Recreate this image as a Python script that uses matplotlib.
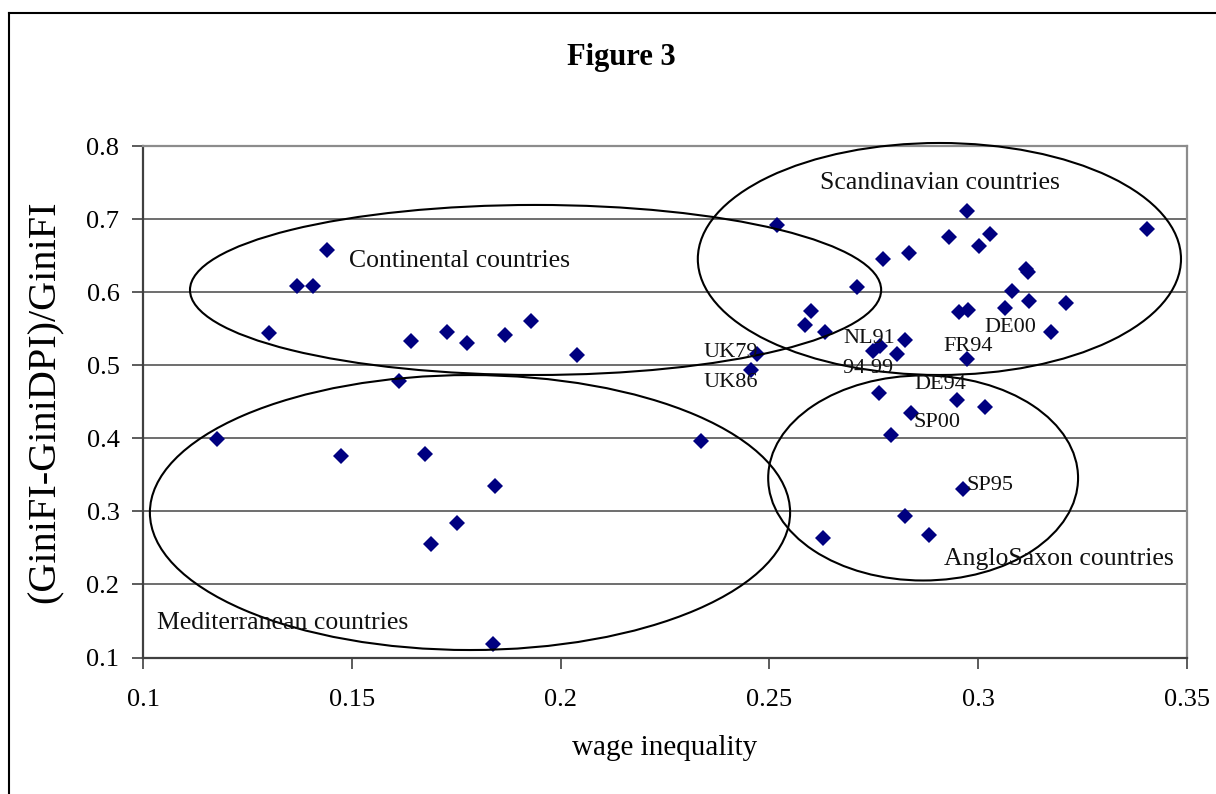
import matplotlib
matplotlib.use('Agg')
import matplotlib.pyplot as plt
from matplotlib.patches import Ellipse
from matplotlib.lines import Line2D

plt.rcParams['font.family'] = ['Liberation Serif', 'DejaVu Serif']

# wage inequality (x) and redistribution ratio (y) for each country-year
wage_ineq = [0.1441, 0.1369, 0.1406, 0.1302, 0.1642, 0.1728, 0.1777, 0.1867, 0.1929,
             0.1613, 0.2039, 0.2518, 0.2710, 0.2600, 0.2585, 0.2633, 0.2470, 0.2457,
             0.2973, 0.2930, 0.3027, 0.3002, 0.3405, 0.2772, 0.2834, 0.3114, 0.3119,
             0.3080, 0.3122, 0.3209, 0.3064, 0.2953, 0.2975, 0.3174, 0.2825, 0.2749,
             0.2765, 0.2806, 0.2973, 0.2762, 0.2948, 0.3016, 0.2838, 0.2791, 0.2963,
             0.2825, 0.2882, 0.2337, 0.2628, 0.1176, 0.1473, 0.1675, 0.1844, 0.1751,
             0.1690, 0.1839]
gini_ratio = [0.658, 0.609, 0.609, 0.544, 0.533, 0.546, 0.530, 0.541, 0.560,
              0.478, 0.514, 0.692, 0.607, 0.574, 0.555, 0.546, 0.516, 0.494,
              0.711, 0.675, 0.680, 0.663, 0.686, 0.645, 0.653, 0.632, 0.628,
              0.601, 0.588, 0.585, 0.579, 0.573, 0.576, 0.546, 0.535, 0.519,
              0.526, 0.516, 0.508, 0.462, 0.453, 0.443, 0.434, 0.404, 0.330,
              0.294, 0.267, 0.396, 0.264, 0.399, 0.376, 0.379, 0.335, 0.284,
              0.256, 0.119]

# country-year tags: text, x, y (left edge, vertical centre)
tag_text = ['UK79', 'UK86', 'NL91', '94 99', 'DE00', 'FR94', 'DE94', 'SP00', 'SP95']
tag_x = [0.2341, 0.2341, 0.2676, 0.2676, 0.3014, 0.2916, 0.2846, 0.2846, 0.2971]
tag_y = [0.518, 0.476, 0.536, 0.496, 0.552, 0.525, 0.474, 0.422, 0.336]

# country groups: name, label position, ellipse centre and size
group_names = ['Scandinavian countries', 'Continental countries',
               'Mediterranean countries', 'AngloSaxon countries']
group_lx = [0.2621, 0.1493, 0.1034, 0.2918]
group_ly = [0.749, 0.643, 0.147, 0.235]
ell_cx = [0.2907, 0.1940, 0.1783, 0.2868]
ell_cy = [0.6454, 0.6030, 0.2984, 0.3457]
ell_w = [0.1157, 0.1655, 0.1533, 0.0742]
ell_h = [0.3175, 0.2327, 0.3763, 0.2806]

fig = plt.figure(figsize=(12.16, 7.94), dpi=100)
ax = fig.add_axes([0.1176, 0.1719, 0.8586, 0.6442])

ax.set_xlim(0.1, 0.35)
ax.set_ylim(0.1, 0.8)
ax.set_xticks([0.1, 0.15, 0.2, 0.25, 0.3, 0.35])
ax.set_xticklabels(['0.1', '0.15', '0.2', '0.25', '0.3', '0.35'])
ax.set_yticks([0.1, 0.2, 0.3, 0.4, 0.5, 0.6, 0.7, 0.8])
ax.set_yticklabels(['0.1', '0.2', '0.3', '0.4', '0.5', '0.6', '0.7', '0.8'])
ax.tick_params(axis='x', direction='out', length=8, width=1.2, color='#404040',
               labelsize=19, pad=15)
ax.tick_params(axis='y', direction='out', length=8, width=1.2, color='#404040',
               labelsize=19, pad=9)

ax.grid(axis='y', color='#555555', linewidth=1.2)
ax.set_axisbelow(True)
for side in ['left', 'bottom']:
    ax.spines[side].set_color('#404040')
    ax.spines[side].set_linewidth(1.6)
for side in ['top', 'right']:
    ax.spines[side].set_color('#8c8c8c')
    ax.spines[side].set_linewidth(1.6)

ax.plot(wage_ineq, gini_ratio, linestyle='none', marker='D', markersize=8.3,
        color='#000080', markeredgewidth=0, zorder=3)

for cx, cy, w, h in zip(ell_cx, ell_cy, ell_w, ell_h):
    ax.add_patch(Ellipse((cx, cy), w, h, fill=False, edgecolor='black',
                         linewidth=1.5, zorder=4, clip_on=False))

for name, lx, ly in zip(group_names, group_lx, group_ly):
    ax.text(lx, ly, name, fontsize=18.5, ha='left', va='center', color='#111111', zorder=5)

for t, tx, ty in zip(tag_text, tag_x, tag_y):
    ax.text(tx, ty, t, fontsize=16, ha='left', va='center', color='#111111', zorder=5)

ax.set_xlabel('wage inequality', fontsize=21)
ax.xaxis.set_label_coords(0.5, -0.177)
ax.xaxis.label.set_va('center')
ax.set_ylabel('(GiniFI-GiniDPI)/GiniFI', fontsize=29)
ax.yaxis.set_label_coords(-0.094, 0.5)
ax.yaxis.label.set_va('center')

fig.text(0.511, 0.927, 'Figure 3', fontsize=22, fontweight='bold', ha='center', va='center')

# chart frame (open on the right and bottom edges)
fig.add_artist(Line2D([0.0074, 0.0074], [0.0, 0.983], transform=fig.transFigure,
                      color='black', linewidth=1.5))
fig.add_artist(Line2D([0.0074, 1.0], [0.983, 0.983], transform=fig.transFigure,
                      color='black', linewidth=1.5))

fig.savefig('out.png', dpi=100)
